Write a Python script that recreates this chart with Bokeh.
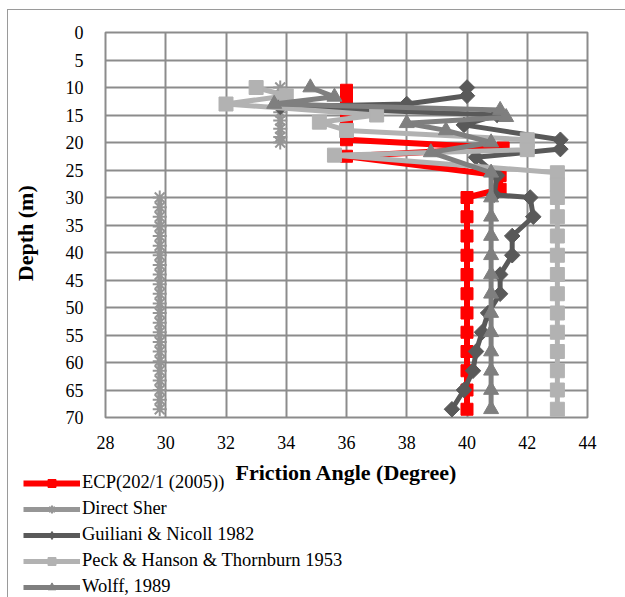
import numpy as np
from bokeh.plotting import figure
from bokeh.layouts import column
from bokeh.models import Range1d, FixedTicker, Legend, LegendItem, ColumnDataSource
from bokeh.embed import file_html
from bokeh.resources import INLINE

# ---------------- data ----------------
x_ticks = [28, 30, 32, 34, 36, 38, 40, 42, 44]
y_ticks = [0, 5, 10, 15, 20, 25, 30, 35, 40, 45, 50, 55, 60, 65, 70]

low_depth = [30, 33.5, 37, 40.5, 44, 47.5, 51, 54.5, 58, 61.5, 65, 68.5]

ecp_depth = [10.5, 12, 13.5, 15, 16.5, 18, 19.5, 21, 22.5, 26, 28.5] + low_depth
ecp_phi = [36, 36, 36, 36, 36, 36, 36, 41.2, 36, 41.1, 41.1] + [40] * 12

ds_depth = [10, 11.5, 13, 14.5, 16, 17.5, 19, 20, float("nan"),
            30, 31.75, 33.5, 35.25, 37, 38.75, 40.5, 42.25, 44, 45.75, 47.5, 49.25,
            51, 52.75, 54.5, 56.25, 58, 59.75, 61.5, 63.25, 65, 66.75, 68.5]
ds_phi = [33.8] * 8 + [float("nan")] + [29.8] * 23

gn_depth = [10, 11.5, 13, 13.5, 15, 16.8, 19.5, 21.2, 22.7, 26, 29.5] + low_depth
gn_phi = [40, 40, 38, 33.8, 41, 39.9, 43.1, 43.1, 40.3, 41.0, 40.9] + \
         [42.1, 42.2, 41.5, 41.5, 41.1, 41.1, 40.7, 40.5, 40.3, 40.2, 39.9, 39.5]

pk_depth = [10, 11.5, 13, 15, 16.3, 17.8, 19.5, 21.3, 22.3, 25.5, 27.7] + low_depth
pk_phi = [33, 34, 32, 37, 35.1, 36, 42, 42, 35.6, 43, 43] + [43] * 12

wf_depth = [10, 11.7, 13, 14.1, 15.4, 16.5, 17.8, 20, 21.8, 25.5] + low_depth
wf_phi = [34.8, 35.6, 33.6, 41.1, 41.3, 38, 39.3, 40.8, 38.8, 40.8] + [40.8] * 12

series_names = ["ECP(202/1 (2005))", "Direct Sher", "Guiliani & Nicoll 1982",
                "Peck & Hanson & Thornburn 1953", "Wolff, 1989"]
series_colors = ["#ff0000", "#969696", "#595959", "#b2b2b2", "#7f7f7f"]

# ---------------- main figure ----------------
FONT = "Liberation Serif"
GRID = "#8c8c8c"

p = figure(width=617, height=482, output_backend="svg", toolbar_location=None,
           x_range=Range1d(28, 44), y_range=Range1d(70, 0),
           min_border_left=97, min_border_right=38, min_border_top=22, min_border_bottom=75,
           background_fill_color="white", border_fill_color="white")
p.frame_align = False

p.outline_line_color = GRID
p.outline_line_width = 2

p.xaxis.ticker = FixedTicker(ticks=x_ticks)
p.yaxis.ticker = FixedTicker(ticks=y_ticks)
p.xgrid.ticker = FixedTicker(ticks=x_ticks)
p.ygrid.ticker = FixedTicker(ticks=y_ticks)
for g in (p.xgrid, p.ygrid):
    g.grid_line_color = GRID
    g.grid_line_width = 2

for ax in (p.xaxis, p.yaxis):
    ax.axis_line_color = None
    ax.major_tick_line_color = None
    ax.minor_tick_line_color = None
    ax.major_tick_in = 0
    ax.major_tick_out = 0
    ax.major_label_text_font = FONT
    ax.major_label_text_font_size = "18px"
    ax.major_label_text_color = "black"
    ax.axis_label_text_font = FONT
    ax.axis_label_text_font_size = "22px"
    ax.axis_label_text_font_style = "bold"
    ax.axis_label_text_color = "black"

p.xaxis.axis_label = "Friction Angle (Degree)"
p.yaxis.axis_label = "Depth (m)" + "\u00a0" * 3
p.xaxis.major_label_standoff = 18
p.xaxis.axis_label_standoff = 8
p.yaxis.major_label_standoff = 22
p.yaxis.axis_label_standoff = 25

def style(i):
    c = series_colors[i]
    styles = [
        dict(lw=6, marker="square", size=12, angle=0.0, mlw=1.0, fill=c),
        dict(lw=5, marker="asterisk", size=14, angle=0.0, mlw=2.0, fill=None),
        dict(lw=5, marker="square", size=11, angle=np.pi / 4, mlw=1.0, fill=c),
        dict(lw=5, marker="square", size=14, angle=0.0, mlw=1.0, fill=c),
        dict(lw=5, marker="triangle", size=15, angle=0.0, mlw=1.0, fill=c),
    ]
    return c, styles[i]

def add_series(fig, i, xs, ys, legend_only=False):
    c, s = style(i)
    marker, angle, size = s["marker"], s["angle"], s["size"]
    if legend_only and i == 2:
        marker, angle, size = "diamond", 0.0, 16
    src = ColumnDataSource(dict(x=xs, y=ys))
    lr = fig.line("x", "y", source=src, line_color=c, line_width=s["lw"], line_join="round")
    sr = fig.scatter("x", "y", source=src, marker=marker, size=size, angle=angle,
                     line_color=c, line_width=s["mlw"], fill_color=s["fill"])
    return lr, sr

all_data = [(ecp_phi, ecp_depth), (ds_phi, ds_depth), (gn_phi, gn_depth),
            (pk_phi, pk_depth), (wf_phi, wf_depth)]
for i, (xs, ys) in enumerate(all_data):
    add_series(p, i, xs, ys)

# ---------------- legend figure (below, overlapping slightly) ----------------
# same series are drawn here but fall outside this figure's ranges; only the legend shows
q = figure(width=617, height=127, output_backend="svg", toolbar_location=None,
           x_axis_type=None, y_axis_type=None,
           x_range=Range1d(0, 1), y_range=Range1d(0, 1),
           min_border_left=0, min_border_right=0, min_border_top=0, min_border_bottom=0,
           background_fill_color=None, border_fill_color=None)
q.frame_align = False
q.outline_line_color = None
q.styles = {"margin-top": "-22px"}

items = []
for i, (xs, ys) in enumerate(all_data):
    lr, sr = add_series(q, i, xs, ys, legend_only=True)
    items.append(LegendItem(label=series_names[i], renderers=[lr, sr]))

legend = Legend(items=items, location=(15, 0), orientation="vertical",
                background_fill_alpha=0, border_line_color=None,
                label_text_font=FONT, label_text_font_size="18.5px", label_text_color="black",
                glyph_width=57, glyph_height=20, label_height=20, spacing=5,
                padding=0, margin=0, label_standoff=2)
q.add_layout(legend)

layout = column(p, q, spacing=0)
layout.styles = {"margin-left": "7px", "margin-top": "9px",
                 "border-left": "1px solid #9a9a9a", "border-top": "1px solid #9a9a9a"}

open("out.html", "w").write(file_html(layout, INLINE))
